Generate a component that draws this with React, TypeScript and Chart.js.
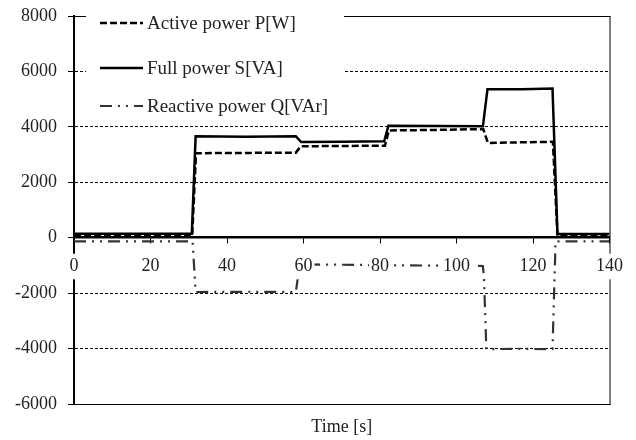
import React, { useEffect, useRef } from 'react';
import { Chart, registerables } from 'chart.js';

Chart.register(...registerables);

// ---- data ----
const seriesLabels = ['Active power P[W]', 'Full power S[VA]', 'Reactive power Q[VAr]'];
const xTitle = 'Time [s]';

const activeTime = [0, 30.9, 31.9, 45, 58.0, 59.3, 70, 81.3, 82.3, 95, 107.0, 108.2, 116, 125.2, 126.4, 140];
const activePower = [60, 60, 3050, 3060, 3070, 3300, 3310, 3320, 3870, 3890, 3920, 3420, 3440, 3460, 70, 70];

const fullTime = [0, 30.8, 31.8, 45, 58.0, 59.4, 70, 81.1, 82.2, 95, 106.9, 108.1, 117, 125.1, 126.4, 140];
const fullPower = [140, 140, 3660, 3640, 3660, 3450, 3460, 3480, 4040, 4030, 4020, 5360, 5360, 5380, 130, 130];

const reactiveTime = [0, 31.0, 31.8, 45, 58.0, 59.0, 80, 106.9, 107.2, 107.8, 116, 125.1, 125.9, 140];
const reactivePower = [-130, -130, -1960, -1950, -1960, -960, -990, -1020, -1500, -4020, -4010, -4020, -130, -130];

const xMin = 0;
const xMax = 140;
const xStep = 20;
const yMin = -6000;
const yMax = 8000;
const yStep = 2000;

const FONT = '"Liberation Serif", "Times New Roman", serif';
const TEXT = '#222';

const toPoints = (xs: number[], ys: number[]) => xs.map((x, i) => ({ x, y: ys[i] }));

const framePlugin = {
  id: 'frame',
  beforeDatasetsDraw(chart: any) {
    const { ctx, chartArea: a } = chart;
    ctx.save();
    ctx.strokeStyle = '#000';
    ctx.lineWidth = 1;
    ctx.beginPath();
    ctx.moveTo(a.left, a.top + 0.5);
    ctx.lineTo(a.right + 1, a.top + 0.5);
    ctx.moveTo(a.right + 0.5, a.top);
    ctx.lineTo(a.right + 0.5, a.bottom + 1);
    ctx.moveTo(a.left, a.bottom + 0.5);
    ctx.lineTo(a.right + 1, a.bottom + 0.5);
    ctx.stroke();
    ctx.restore();
  },
};

const legendRows = [24, 69, 107];

const legendPlugin = {
  id: 'boxLegend',
  afterDraw(chart: any) {
    const { ctx } = chart;
    ctx.save();
    ctx.fillStyle = '#fff';
    ctx.fillRect(86, 0, 258, 120);
    chart.data.datasets.forEach((ds: any, i: number) => {
      const y = legendRows[i];
      ctx.strokeStyle = ds.borderColor;
      ctx.lineWidth = ds.borderWidth;
      ctx.setLineDash(ds.borderDash || []);
      ctx.beginPath();
      ctx.moveTo(100, y - 1);
      ctx.lineTo(143, y - 1);
      ctx.stroke();
      ctx.setLineDash([]);
      ctx.fillStyle = TEXT;
      ctx.font = `19px ${FONT}`;
      ctx.textBaseline = 'middle';
      ctx.textAlign = 'left';
      ctx.fillText(ds.label, 147, y);
    });
    ctx.restore();
  },
};

export default function App() {
  const ref = useRef<HTMLCanvasElement>(null);

  useEffect(() => {
    document.body.style.margin = '0';
    const tickFont = { family: FONT, size: 18 };
    const chart = new Chart(ref.current as HTMLCanvasElement, {
      type: 'line',
      data: {
        datasets: [
          {
            label: seriesLabels[0],
            data: toPoints(activeTime, activePower),
            borderColor: '#000',
            borderWidth: 2.5,
            borderDash: [7, 3],
            pointRadius: 0,
            fill: false,
            tension: 0,
          },
          {
            label: seriesLabels[1],
            data: toPoints(fullTime, fullPower),
            borderColor: '#000',
            borderWidth: 2.5,
            borderDash: [],
            pointRadius: 0,
            fill: false,
            tension: 0,
          },
          {
            label: seriesLabels[2],
            data: toPoints(reactiveTime, reactivePower),
            borderColor: '#333',
            borderWidth: 2.2,
            borderDash: [12, 6, 2, 6, 2, 6],
            pointRadius: 0,
            fill: false,
            tension: 0,
          },
        ],
      },
      options: {
        animation: false,
        responsive: false,
        devicePixelRatio: 1,
        layout: { padding: { top: 16, right: 25, left: 0, bottom: 0 } },
        plugins: {
          legend: { display: false },
          tooltip: { enabled: false },
        },
        scales: {
          x: {
            type: 'linear',
            position: { y: 0 } as any,
            min: xMin,
            max: xMax,
            ticks: {
              stepSize: xStep,
              font: tickFont,
              color: TEXT,
              padding: 13,
              z: 1,
              showLabelBackdrop: true,
              backdropColor: '#fff',
              backdropPadding: 2,
              callback: (v: any) => String(v),
            } as any,
            grid: {
              drawOnChartArea: false,
              drawTicks: true,
              tickLength: 5,
              tickColor: '#000',
              tickWidth: 1,
            },
            border: { display: true, color: '#000', width: 2.5 },
          },
          x2: {
            type: 'linear',
            position: 'bottom',
            min: xMin,
            max: xMax,
            ticks: { display: false },
            grid: { display: false },
            border: { display: false },
            title: {
              display: true,
              text: xTitle,
              font: tickFont,
              color: TEXT,
              padding: { top: 0, bottom: 2 },
            },
            afterFit: (s: any) => {
              s.height = 36;
            },
          },
          y: {
            type: 'linear',
            position: 'left',
            min: yMin,
            max: yMax,
            ticks: {
              stepSize: yStep,
              font: tickFont,
              color: TEXT,
              padding: 11,
              callback: (v: any) => String(v),
            },
            grid: {
              color: '#000',
              lineWidth: 1,
              tickColor: '#000',
              tickLength: 6,
              tickWidth: 1,
              tickBorderDash: [],
            },
            border: { display: true, color: '#000', width: 2, dash: [3, 2] },
            afterFit: (s: any) => {
              s.width = 74;
              s.paddingTop = 0;
              s.paddingBottom = 0;
            },
          },
        },
      },
      plugins: [framePlugin, legendPlugin],
    } as any);
    return () => chart.destroy();
  }, []);

  return (
    <div style={{ position: 'absolute', left: 0, top: 0, width: 636, height: 440, background: '#fff' }}>
      <canvas ref={ref} width={636} height={440} style={{ display: 'block' }} />
    </div>
  );
}
